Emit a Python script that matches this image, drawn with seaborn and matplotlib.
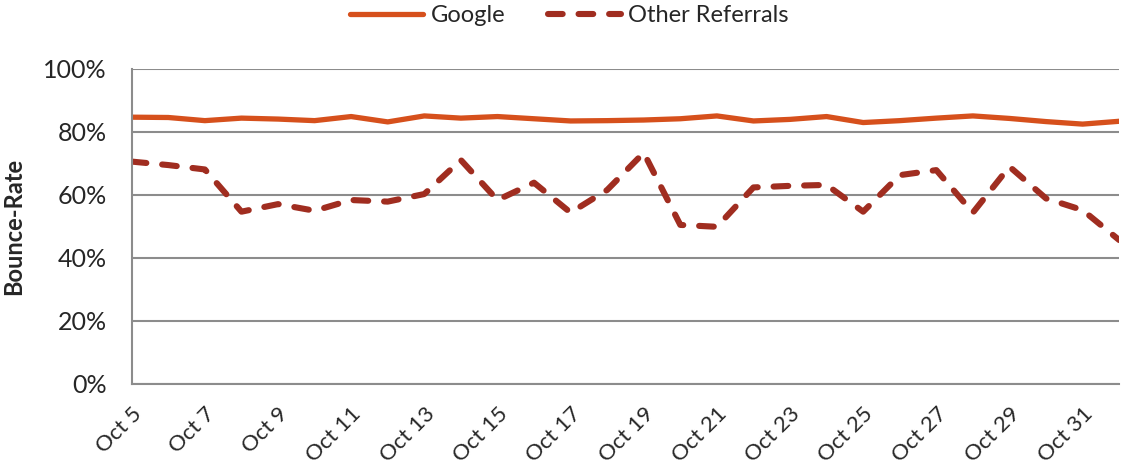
import numpy as np
import pandas as pd
import matplotlib
matplotlib.use('Agg')
import matplotlib.pyplot as plt
from matplotlib.ticker import PercentFormatter, MultipleLocator
import seaborn as sns

dates = ['Oct 5', 'Oct 6', 'Oct 7', 'Oct 8', 'Oct 9', 'Oct 10', 'Oct 11',
         'Oct 12', 'Oct 13', 'Oct 14', 'Oct 15', 'Oct 16', 'Oct 17', 'Oct 18',
         'Oct 19', 'Oct 20', 'Oct 21', 'Oct 22', 'Oct 23', 'Oct 24', 'Oct 25',
         'Oct 26', 'Oct 27', 'Oct 28', 'Oct 29', 'Oct 30', 'Oct 31', 'Nov 1']

google = [84.7, 84.6, 83.6, 84.4, 84.1, 83.6, 84.9, 83.2, 85.1, 84.4,
          84.9, 84.2, 83.5, 83.6, 83.8, 84.2, 85.1, 83.5, 84.0, 84.9,
          83.0, 83.6, 84.4, 85.1, 84.3, 83.3, 82.5, 83.4]

other = [70.6, 69.5, 68.1, 54.7, 57.1, 55.0, 58.4, 57.9, 60.3, 71.1,
         58.4, 63.9, 54.4, 61.6, 73.4, 50.5, 49.9, 62.4, 62.9, 63.2,
         54.7, 66.3, 67.9, 54.4, 69.0, 58.9, 55.2, 45.7]

df = pd.DataFrame({'day': np.arange(len(dates)), 'Google': google, 'Other Referrals': other})

sns.set_style('white')
plt.rcParams['font.family'] = ['Lato', 'DejaVu Sans']

fig = plt.figure(figsize=(11.23, 4.68), dpi=100)
ax = fig.add_axes([0.1173, 0.1795, 0.8793, 0.6731])

sns.lineplot(data=df, x='day', y='Google', ax=ax, color='#D6501C',
             linewidth=3.8, label='Google', solid_capstyle='round')
sns.lineplot(data=df, x='day', y='Other Referrals', ax=ax, color='#A02D20',
             linewidth=4.4, label='Other Referrals', dashes=False)
ax.lines[-1].set_dashes([2.4, 2.6])
ax.lines[-1].set_dash_capstyle('round')

ax.set_ylim(0, 100)
ax.set_xlim(0, len(dates) - 1)
ax.yaxis.set_major_locator(MultipleLocator(20))
ax.yaxis.set_major_formatter(PercentFormatter(decimals=0))
ax.grid(axis='y', color='#8c8c8c', linewidth=1.5)
ax.set_axisbelow(True)

ax.set_xticks(np.arange(0, len(dates) - 1, 2))
ax.set_xticklabels(dates[0:len(dates) - 1:2], rotation=45, ha='right',
                   rotation_mode='anchor')
ax.set_xticks(np.arange(1, len(dates), 2), minor=True)
ax.tick_params(axis='x', which='major', length=6, width=1.5, color='#8c8c8c',
               labelsize=16, pad=8)
ax.tick_params(axis='x', which='minor', length=4, width=1.5, color='#8c8c8c')
ax.tick_params(axis='y', length=6, width=1.5, color='#8c8c8c', labelsize=18,
               pad=12)

for s in ['top', 'right']:
    ax.spines[s].set_visible(False)
for s in ['left', 'bottom']:
    ax.spines[s].set_color('#8c8c8c')
    ax.spines[s].set_linewidth(1.5)

ax.set_xlabel('')
ax.set_ylabel('Bounce-Rate', fontsize=17, fontweight='bold', labelpad=13)

ax.legend(loc='center', bbox_to_anchor=(0.507, 0.967),
          bbox_transform=fig.transFigure, ncol=2, frameon=False,
          fontsize=17, handlelength=3.1, columnspacing=1.8, handletextpad=0.3)

fig.savefig('out.png', dpi=100)
